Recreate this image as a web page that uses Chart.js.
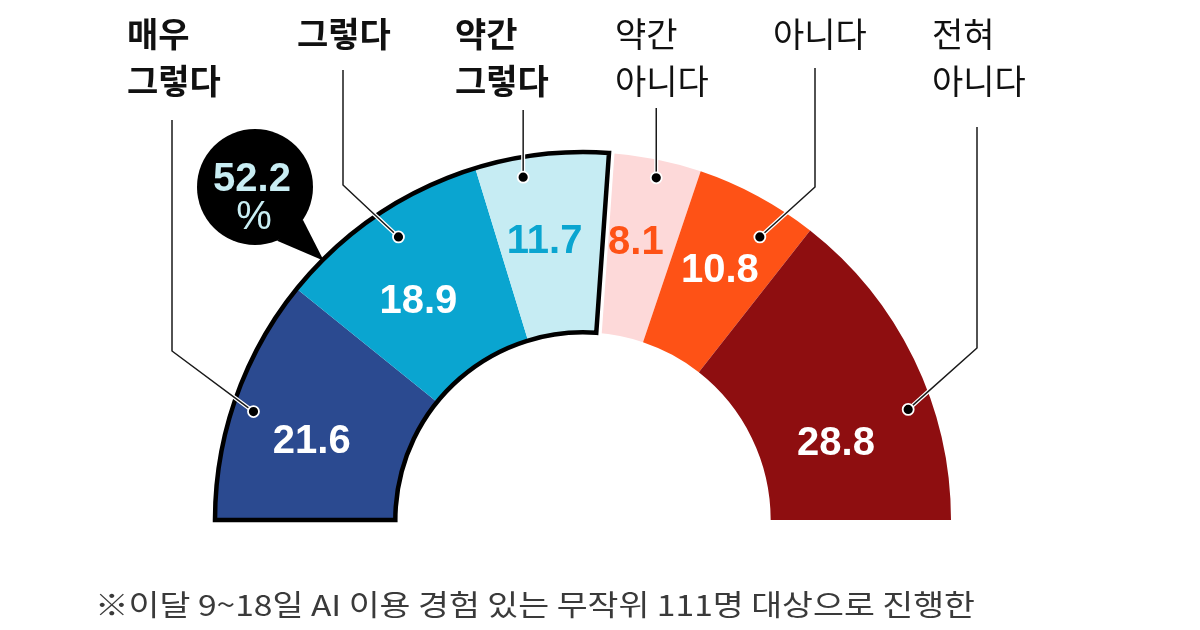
<!DOCTYPE html>
<html lang="ko">
<head>
<meta charset="utf-8">
<script src="https://cdn.jsdelivr.net/npm/chart.js@4"></script>
<style>
  html, body { margin: 0; padding: 0; background: #ffffff; }
  #wrap { position: relative; width: 1200px; height: 630px; }
</style>
</head>
<body>
<div id="wrap"><canvas id="c" width="1200" height="630"></canvas></div>
<script>
// ---- data ----
const categories = ['매우 그렇다', '그렇다', '약간 그렇다', '약간 아니다', '아니다', '전혀 아니다'];
const values = [21.6, 18.9, 11.7, 8.1, 10.8, 28.8];
const positiveCount = 3; // first three categories form the "agree" group
const footnote = '※이달 9~18일 AI 이용 경험 있는 무작위 111명 대상으로 진행한';

// ---- styles / layout ----
const colors = ['#2b4a90', '#0aa5d0', '#c6ecf3', '#fdd9d9', '#fe5216', '#8e0e10'];
const valueColors = ['#ffffff', '#ffffff', '#0aa5d0', '#fe5216', '#ffffff', '#ffffff'];
const labelBold = [true, true, true, false, false, false];
// value label placement: fraction along segment angle, fraction across ring thickness
const valT = [0.43, 0.425, 0.44, 0.455, 0.506, 0.663];
const valR = [0.53, 0.49, 0.536, 0.54, 0.55, 0.43];
// dot placement
const dotT = [0.468, 0.528, 0.338, 0.55, 0.686, 0.638];
const dotR = [0.883, 0.833, 0.889, 0.9, 0.81, 0.864];
// leader lines and top labels
const leadX = [172, 343, 523, 657, 815, 977];
const leadTop = [120, 70, 110, 108, 68, 127];
const leadBend = [351, 185, null, null, 187, 348];
const textLeft = [127, 297, 455, 615, 773, 932];
const lineY = [34, 81];

const overlay = {
  id: 'overlay',
  afterDatasetsDraw(chart) {
    const ctx = chart.ctx;
    const arcs = chart.getDatasetMeta(0).data;
    const W = chart.width, H = chart.height;
    const a0 = arcs[0], aL = arcs[positiveCount - 1];
    const cx = a0.x, cy = a0.y;
    const inner = a0.innerRadius, outer = a0.outerRadius;

    function groupPath() {
      ctx.moveTo(cx + outer * Math.cos(a0.startAngle), cy + outer * Math.sin(a0.startAngle));
      ctx.arc(cx, cy, outer, a0.startAngle, aL.endAngle);
      ctx.arc(cx, cy, inner, aL.endAngle, a0.startAngle, true);
      ctx.closePath();
    }
    function pointAt(arc, t, rf) {
      const ang = arc.startAngle + (arc.endAngle - arc.startAngle) * t;
      const r = arc.innerRadius + (arc.outerRadius - arc.innerRadius) * rf;
      return { x: arc.x + r * Math.cos(ang), y: arc.y + r * Math.sin(ang) };
    }

    // white gap outside the agree group
    ctx.save();
    ctx.beginPath();
    ctx.rect(0, 0, W, H);
    groupPath();
    ctx.clip('evenodd');
    ctx.beginPath();
    groupPath();
    ctx.strokeStyle = '#ffffff';
    ctx.lineWidth = 11;
    ctx.lineJoin = 'miter';
    ctx.stroke();
    ctx.restore();

    // black outline of the agree group
    ctx.save();
    ctx.beginPath();
    groupPath();
    ctx.strokeStyle = '#000000';
    ctx.lineWidth = 4.5;
    ctx.lineJoin = 'miter';
    ctx.stroke();
    ctx.restore();

    // value labels
    ctx.save();
    ctx.font = 'bold 40px "Liberation Sans", Arial, sans-serif';
    ctx.textAlign = 'center';
    ctx.textBaseline = 'alphabetic';
    arcs.forEach((arc, i) => {
      const p = pointAt(arc, valT[i], valR[i]);
      ctx.fillStyle = valueColors[i];
      ctx.fillText(values[i].toFixed(1), p.x, p.y + 14.5);
    });
    ctx.restore();

    // leader lines + dots
    arcs.forEach((arc, i) => {
      const d = pointAt(arc, dotT[i], dotR[i]);
      const pts = [];
      if (leadBend[i] === null) {
        pts.push({ x: d.x, y: leadTop[i] }, d);
      } else {
        pts.push({ x: leadX[i], y: leadTop[i] }, { x: leadX[i], y: leadBend[i] }, d);
      }
      const stroke = (color, w) => {
        ctx.beginPath();
        ctx.moveTo(pts[0].x, pts[0].y);
        for (let k = 1; k < pts.length; k++) ctx.lineTo(pts[k].x, pts[k].y);
        ctx.strokeStyle = color;
        ctx.lineWidth = w;
        ctx.lineJoin = 'round';
        ctx.stroke();
      };
      ctx.save();
      stroke('#ffffff', 4);
      stroke('#1a1a1a', 1.5);
      ctx.beginPath();
      ctx.arc(d.x, d.y, 5.5, 0, Math.PI * 2);
      ctx.fillStyle = '#000000';
      ctx.fill();
      ctx.strokeStyle = '#ffffff';
      ctx.lineWidth = 1.8;
      ctx.stroke();
      ctx.restore();
    });

    // top category labels
    ctx.save();
    ctx.textAlign = 'left';
    ctx.textBaseline = 'middle';
    ctx.fillStyle = '#111111';
    categories.forEach((name, i) => {
      ctx.font = (labelBold[i] ? 'bold ' : '') + '34px "Noto Sans CJK KR", sans-serif';
      const lines = name.split(' ');
      lines.forEach((ln, k) => ctx.fillText(ln, textLeft[i], lineY[k]));
    });
    ctx.restore();

    // speech bubble with agree total
    const total = values.slice(0, positiveCount).reduce((s, v) => s + v, 0);
    const bx = 255, by = 187, br = 58;
    const tipAng = a0.startAngle + Math.PI / 4;
    const tip = { x: cx + outer * Math.cos(tipAng), y: cy + outer * Math.sin(tipAng) };
    ctx.save();
    ctx.fillStyle = '#000000';
    ctx.beginPath();
    ctx.arc(bx, by, br, 0, Math.PI * 2);
    ctx.fill();
    ctx.beginPath();
    ctx.moveTo(bx + br * Math.cos(0.6), by + br * Math.sin(0.6));
    ctx.lineTo(tip.x + 1, tip.y + 1);
    ctx.lineTo(bx + br * Math.cos(1.18), by + br * Math.sin(1.18));
    ctx.closePath();
    ctx.fill();
    ctx.fillStyle = '#c8edf3';
    ctx.textAlign = 'center';
    ctx.textBaseline = 'alphabetic';
    ctx.font = 'bold 40px "Liberation Sans", Arial, sans-serif';
    ctx.fillText(total.toFixed(1), bx - 3, 176 + 14.5);
    ctx.font = '40px "Liberation Sans", Arial, sans-serif';
    ctx.fillText('%', bx - 1, 214 + 14.5);
    ctx.restore();

    // footnote
    ctx.save();
    ctx.font = '29px "Noto Sans CJK KR", sans-serif';
    ctx.fillStyle = '#3a3a3a';
    ctx.textBaseline = 'middle';
    ctx.textAlign = 'left';
    const w = ctx.measureText(footnote).width;
    const target = 880;
    ctx.translate(95, 605);
    ctx.scale(target / w, 1);
    ctx.fillText(footnote, 0, 0);
    ctx.restore();
  }
};

new Chart(document.getElementById('c'), {
  type: 'doughnut',
  data: {
    labels: categories,
    datasets: [{
      data: values,
      backgroundColor: colors,
      borderWidth: 0,
      hoverOffset: 0
    }]
  },
  options: {
    responsive: false,
    animation: false,
    rotation: -90,
    circumference: 180,
    cutout: '51%',
    layout: { padding: { top: 152, bottom: 110, left: 100, right: 134 } },
    plugins: {
      legend: { display: false },
      tooltip: { enabled: false },
      title: { display: false }
    },
    events: []
  },
  plugins: [overlay]
});
</script>
</body>
</html>
